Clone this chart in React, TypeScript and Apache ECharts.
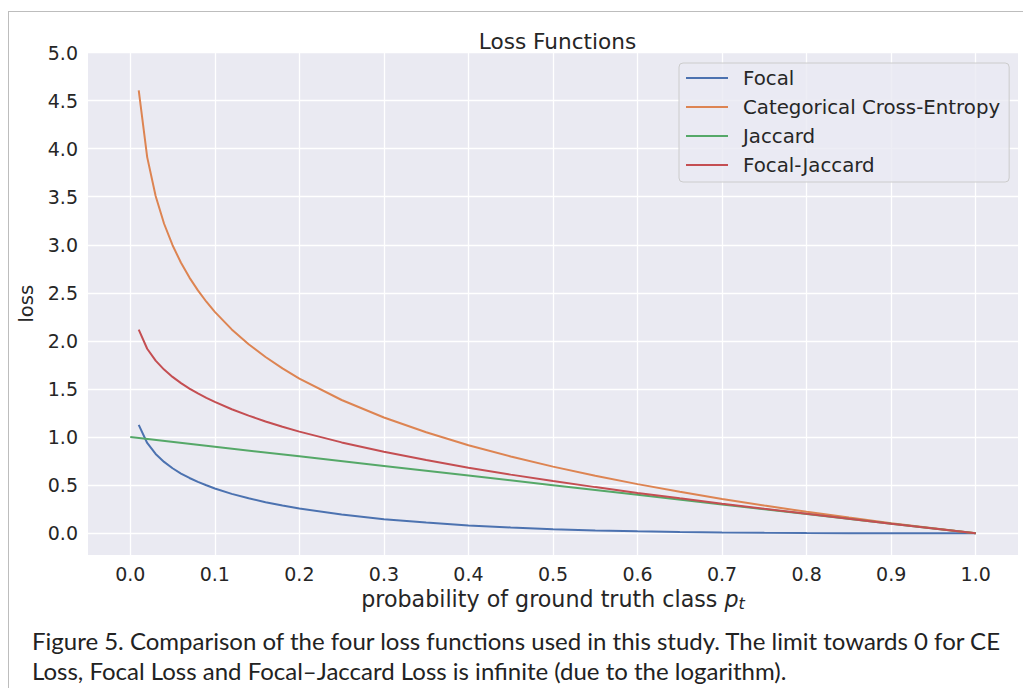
import React, { useEffect, useRef } from "react";
import * as echarts from "echarts";

// probability of ground truth class p_t (sample positions)
const PT = [0.01, 0.02, 0.03, 0.04, 0.05, 0.06, 0.07, 0.08, 0.09, 0.1, 0.12, 0.14, 0.16, 0.18, 0.2, 0.25, 0.3, 0.35, 0.4, 0.45, 0.5, 0.55, 0.6, 0.65, 0.7, 0.75, 0.8, 0.85, 0.9, 0.95, 1.0];

const FOCAL = [1.128, 0.939, 0.825, 0.742, 0.676, 0.621, 0.575, 0.534, 0.499, 0.466, 0.41, 0.364, 0.323, 0.288, 0.257, 0.195, 0.147, 0.111, 0.082, 0.06, 0.043, 0.03, 0.02, 0.013, 0.008, 0.0045, 0.0022, 0.001, 0.0003, 0.00003, 0.0];

const CROSS_ENTROPY = [4.605, 3.912, 3.507, 3.219, 2.996, 2.813, 2.659, 2.526, 2.408, 2.303, 2.12, 1.966, 1.833, 1.715, 1.609, 1.386, 1.204, 1.05, 0.916, 0.799, 0.693, 0.598, 0.511, 0.431, 0.357, 0.288, 0.223, 0.163, 0.105, 0.051, 0.0];

const JACCARD_PT = [0.0, 0.1, 0.2, 0.3, 0.4, 0.5, 0.6, 0.7, 0.8, 0.9, 1.0];
const JACCARD = [1.0, 0.9, 0.8, 0.7, 0.6, 0.5, 0.4, 0.3, 0.2, 0.1, 0.0];

const FOCAL_JACCARD = [2.118, 1.919, 1.795, 1.702, 1.626, 1.561, 1.505, 1.454, 1.409, 1.366, 1.29, 1.224, 1.163, 1.108, 1.057, 0.945, 0.847, 0.761, 0.682, 0.61, 0.543, 0.48, 0.42, 0.363, 0.308, 0.2545, 0.202, 0.151, 0.1, 0.05, 0.0];

const X_TICKS = [0.0, 0.1, 0.2, 0.3, 0.4, 0.5, 0.6, 0.7, 0.8, 0.9, 1.0];
const Y_TICKS = [0.0, 0.5, 1.0, 1.5, 2.0, 2.5, 3.0, 3.5, 4.0, 4.5, 5.0];

const SERIES_NAMES = ["Focal", "Categorical Cross-Entropy", "Jaccard", "Focal-Jaccard"];
const COLORS = ["#4C72B0", "#DD8452", "#55A868", "#C44E52"];

const TITLE = "Loss Functions";
const X_NAME = "probability of ground truth class ";
const Y_NAME = "loss";
const CAPTION = [
  "Figure 5. Comparison of the four loss functions used in this study. The limit towards 0 for CE",
  "Loss, Focal Loss and Focal\u2013Jaccard Loss is infinite (due to the logarithm).",
];

const FONT = "DejaVu Sans";
const TXT = "#262626";

export default function App() {
  const ref = useRef<HTMLDivElement>(null);
  useEffect(() => {
    if (!ref.current) return;
    const chart = echarts.init(ref.current, undefined, { renderer: "svg" });
    const pairs = (xs: number[], ys: number[]) => xs.map((x, i) => [x, ys[i]]);
    const seriesData = [
      pairs(PT, FOCAL),
      pairs(PT, CROSS_ENTROPY),
      pairs(JACCARD_PT, JACCARD),
      pairs(PT, FOCAL_JACCARD),
    ];
    chart.setOption({
      animation: false,
      backgroundColor: "#ffffff",
      title: {
        text: TITLE,
        left: 552.5,
        top: 25,
        textAlign: "center",
        textStyle: { fontFamily: FONT, fontSize: 21.6, fontWeight: "normal", color: TXT },
      },
      legend: {
        orient: "vertical",
        left: 679,
        top: 63,
        data: SERIES_NAMES,
        icon: "rect",
        itemWidth: 42,
        itemHeight: 2,
        itemGap: 7,
        padding: [4, 9, 6, 7],
        backgroundColor: "rgba(234,234,242,0.8)",
        borderColor: "#cccccc",
        borderWidth: 1,
        borderRadius: 4,
        textStyle: { fontFamily: FONT, fontSize: 19.8, color: TXT, lineHeight: 22, padding: [0, 0, 0, 10] },
      },
      grid: {
        left: 88,
        top: 52.5,
        right: 5,
        bottom: 133,
        show: true,
        backgroundColor: "#EAEAF2",
        borderWidth: 0,
        containLabel: false,
      },
      xAxis: {
        type: "value",
        min: -0.05,
        max: 1.05,
        name: X_NAME + "{i|p}{s|t}",
        nameLocation: "middle",
        nameGap: 21,
        nameTextStyle: {
          fontFamily: FONT,
          fontSize: 22.2,
          color: TXT,
          rich: {
            i: { fontFamily: FONT, fontStyle: "italic", fontSize: 22.2, color: TXT },
            s: { fontFamily: FONT, fontStyle: "italic", fontSize: 16, color: TXT, verticalAlign: "bottom", padding: [10, 0, 0, 0] },
          },
        },
        axisLine: { show: false },
        axisTick: { show: false, customValues: X_TICKS },
        axisLabel: {
          customValues: X_TICKS,
          margin: 9,
          fontFamily: FONT,
          fontSize: 19,
          color: TXT,
          formatter: (v: number) => v.toFixed(1),
        },
        splitLine: { show: true, lineStyle: { color: "#ffffff", width: 1.3 } },
      },
      yAxis: {
        type: "value",
        min: -0.226,
        max: 5.0,
        name: Y_NAME,
        nameLocation: "middle",
        nameGap: 43,
        nameTextStyle: { fontFamily: FONT, fontSize: 19.5, color: TXT },
        axisLine: { show: false },
        axisTick: { show: false, customValues: Y_TICKS },
        axisLabel: {
          customValues: Y_TICKS,
          margin: 10,
          fontFamily: FONT,
          fontSize: 19,
          color: TXT,
          formatter: (v: number) => v.toFixed(1),
        },
        splitLine: { show: true, lineStyle: { color: "#ffffff", width: 1.3 } },
      },
      series: SERIES_NAMES.map((name, i) => ({
        name,
        type: "line",
        data: seriesData[i],
        showSymbol: false,
        symbol: "none",
        smooth: false,
        color: COLORS[i],
        lineStyle: { color: COLORS[i], width: 2 },
        z: 3 + i,
      })),
      graphic: [
        { type: "line", shape: { x1: 8, y1: 11.5, x2: 1023, y2: 11.5 }, style: { stroke: "#bdbdbd", lineWidth: 1 } },
        { type: "line", shape: { x1: 8.5, y1: 11, x2: 8.5, y2: 688 }, style: { stroke: "#bdbdbd", lineWidth: 1 } },
        {
          type: "text",
          left: 32,
          top: 625,
          style: { text: CAPTION[0], fontFamily: "Lato", fontSize: 24, fill: "#222222", lineHeight: 30 },
        },
        {
          type: "text",
          left: 32,
          top: 655,
          style: { text: CAPTION[1], fontFamily: "Lato", fontSize: 24, fill: "#222222", lineHeight: 30 },
        },
      ],
    });
    return () => chart.dispose();
  }, []);
  return (
    <div
      ref={ref}
      style={{ position: "absolute", left: 0, top: 0, width: 1023, height: 688 }}
    />
  );
}
